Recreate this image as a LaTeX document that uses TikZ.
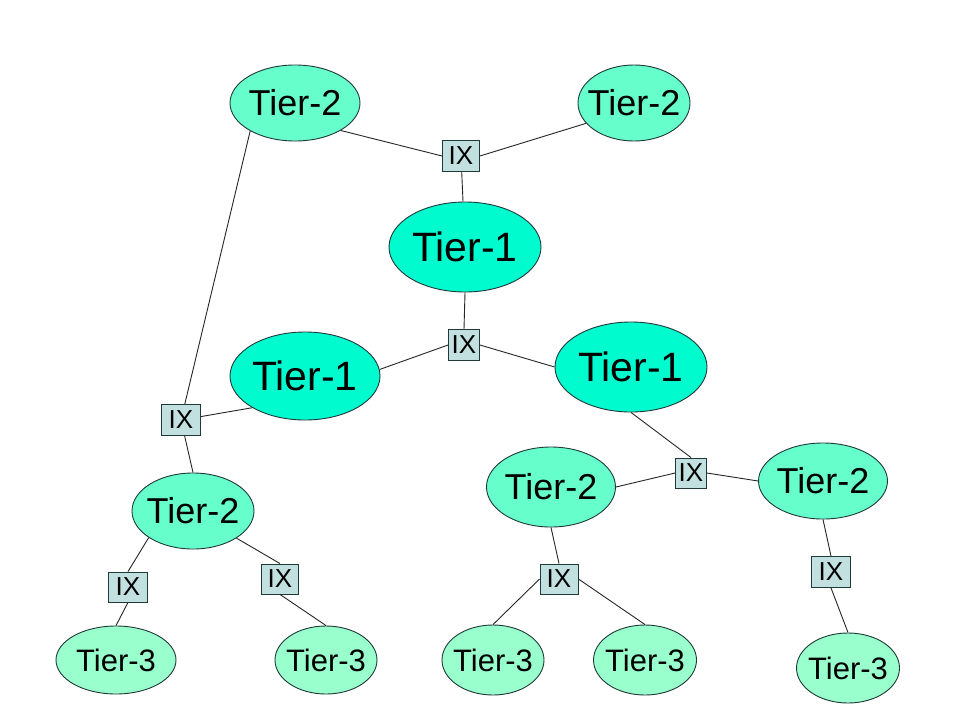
\documentclass[tikz,border=0pt]{standalone}
\usepackage{fontspec}
\setmainfont{Liberation Sans}
\usetikzlibrary{shapes.geometric}
\definecolor{tone}{HTML}{00FBCF}
\definecolor{ttwo}{HTML}{66FFCC}
\definecolor{tthree}{HTML}{99FFCC}
\definecolor{ixfill}{HTML}{C2E0E0}
\definecolor{edge}{HTML}{203838}
\newcommand\ctext[1]{\makebox[0pt]{\raisebox{-.36em}[0pt][0pt]{#1}}}
\tikzset{
  tier/.style={ellipse, draw=edge, line width=0.9pt, inner sep=0pt},
  tierone/.style={tier, fill=tone, font=\fontsize{41}{41}\selectfont},
  tiertwo/.style={tier, fill=ttwo, font=\fontsize{36}{36}\selectfont},
  tierthree/.style={tier, fill=tthree, font=\fontsize{31}{31}\selectfont},
  ixbox/.style={rectangle, draw=edge, line width=0.9pt, fill=ixfill, inner sep=0pt,
    minimum width=37pt, minimum height=31pt, font=\fontsize{26}{26}\selectfont},
  link/.style={draw=black!85, line width=0.9pt}
}
\begin{document}
\begin{tikzpicture}[x=1pt,y=-1pt]
\useasboundingbox (0,0) rectangle (960,720);
\fill[white] (0,0) rectangle (960,720);
% Tier-1
\node[tierone, minimum width=152pt, minimum height=90pt] (t1t) at (465,247) {\ctext{Tier-1}};
\node[tierone, minimum width=150pt, minimum height=88pt] (t1l) at (305,376) {\ctext{Tier-1}};
\node[tierone, minimum width=152pt, minimum height=90pt] (t1r) at (631,367) {\ctext{Tier-1}};
% Tier-2
\node[tiertwo, minimum width=130pt, minimum height=76pt] (t2tl) at (295,103) {\ctext{Tier-2}};
\node[tiertwo, minimum width=112pt, minimum height=76pt] (t2tr) at (634,103) {\ctext{Tier-2}};
\node[tiertwo, minimum width=122pt, minimum height=76pt] (t2l) at (193,511) {\ctext{Tier-2}};
\node[tiertwo, minimum width=129pt, minimum height=80pt] (t2m) at (551,487) {\ctext{Tier-2}};
\node[tiertwo, minimum width=129pt, minimum height=76pt] (t2r) at (823,481) {\ctext{Tier-2}};
% Tier-3
\node[tierthree, minimum width=120pt, minimum height=68pt] (t3a) at (116,660) {\ctext{Tier-3}};
\node[tierthree, minimum width=102pt, minimum height=68pt] (t3b) at (326,660) {\ctext{Tier-3}};
\node[tierthree, minimum width=102pt, minimum height=70pt] (t3c) at (493,660) {\ctext{Tier-3}};
\node[tierthree, minimum width=103pt, minimum height=70pt] (t3d) at (645,660) {\ctext{Tier-3}};
\node[tierthree, minimum width=103pt, minimum height=70pt] (t3e) at (848,668) {\ctext{Tier-3}};
% IX boxes
\node[ixbox] (ixt) at (461,156) {IX};
\node[ixbox, minimum width=31pt] (ixm) at (464,345) {IX};
\node[ixbox, minimum width=39pt] (ixl) at (181,420) {IX};
\node[ixbox, minimum width=39pt, minimum height=30pt] (ixbl1) at (128,587) {IX};
\node[ixbox, minimum height=30pt] (ixbl2) at (280,579) {IX};
\node[ixbox, minimum width=31pt, minimum height=30pt] (ixm2) at (691,473) {IX};
\node[ixbox, minimum width=38pt, minimum height=30pt] (ixbm) at (559,579) {IX};
\node[ixbox, minimum width=39pt, minimum height=31pt] (ixbr) at (831,572) {IX};
% connectors
\path[link] (t2tl.329) -- (ixt.west);
\path[link] (ixt.east) -- (t2tr.203);
\path[link] (ixt) -- (t1t);
\path[link] (t1t.south) -- (ixm.north);
\path[link] (ixm.west) -- (t1l.5);
\path[link] (ixm.east) -- (t1r.west);
\path[link] (t2tl.212) -- (ixl);
\path[link] (ixl) -- (t1l.211);
\path[link] (ixl) -- (t2l.north);
\path[link] (t2l.211) -- (ixbl1.north);
\path[link] (ixbl1.south) -- (t3a.north);
\path[link] (t2l.328) -- (ixbl2.north);
\path[link] (ixbl2.south) -- (t3b.north);
\path[link] (t1r.south) -- (ixm2.north);
\path[link] (ixm2.west) -- (t2m.east);
\path[link] (ixm2.east) -- (t2r.west);
\path[link] (t2m.south) -- (ixbm.north);
\path[link] (ixbm.west) -- (t3c.north);
\path[link] (ixbm.east) -- (t3d.north);
\path[link] (t2r.south) -- (ixbr.north);
\path[link] (ixbr.south) -- (t3e.north);
\end{tikzpicture}
\end{document}
